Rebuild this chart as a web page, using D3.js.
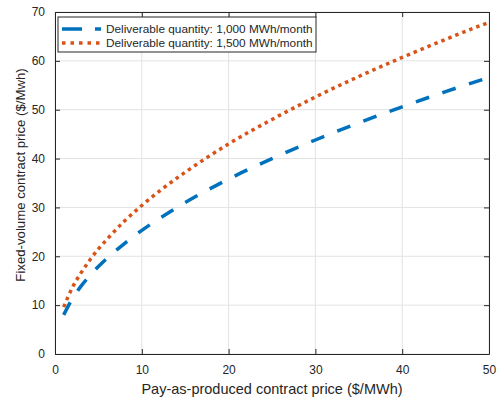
<!DOCTYPE html>
<html>
<head>
<meta charset="utf-8">
<script src="https://cdn.jsdelivr.net/npm/d3@7"></script>
<style>
  body { margin: 0; background: #fff; }
  text { font-family: "Liberation Sans", Arial, Helvetica, sans-serif; fill: #262626; }
</style>
</head>
<body>
<div id="chart-area"></div>
<script>
// data
var xTicks = [0, 10, 20, 30, 40, 50];
var yTicks = [0, 10, 20, 30, 40, 50, 60, 70];
var price = [1, 2, 3, 4, 5, 6, 8, 10, 12, 15, 20, 25, 30, 35, 40, 45, 50];
var q1000 = [8.0, 11.3, 13.9, 16.0, 17.9, 19.6, 22.6, 25.3, 27.7, 31.0, 35.8, 40.0, 43.8, 47.3, 50.6, 53.7, 56.6];
var q1500 = [9.6, 13.6, 16.6, 19.2, 21.5, 23.5, 27.2, 30.4, 33.3, 37.2, 43.0, 48.0, 52.6, 56.8, 60.7, 64.4, 67.9];
var seriesNames = ["Deliverable quantity: 1,000 MWh/month", "Deliverable quantity: 1,500 MWh/month"];

var margin = { left: 55, right: 9, top: 12, bottom: 48 };
var width = 498 - margin.left - margin.right,
    height = 402 - margin.top - margin.bottom;

var svg = d3.select("#chart-area")
    .append("svg")
        .attr("width", 498)
        .attr("height", 402)
    .append("g")
        .attr("transform", "translate(" + margin.left + "," + margin.top + ")");

var xScale = d3.scaleLinear().domain([0, 50]).range([0, width]);
var yScale = d3.scaleLinear().domain([0, 70]).range([height, 0]);

// grid
svg.selectAll(".gx").data(xTicks).enter().append("line")
    .attr("x1", function(d) { return xScale(d); })
    .attr("x2", function(d) { return xScale(d); })
    .attr("y1", 0).attr("y2", height)
    .attr("stroke", "#e3e3e3").attr("stroke-width", 1);
svg.selectAll(".gy").data(yTicks).enter().append("line")
    .attr("y1", function(d) { return yScale(d); })
    .attr("y2", function(d) { return yScale(d); })
    .attr("x1", 0).attr("x2", width)
    .attr("stroke", "#e3e3e3").attr("stroke-width", 1);

// axes (ticks inward, box on all sides)
function styleAxis(g) {
    g.selectAll("path").attr("stroke", "#262626");
    g.selectAll("line").attr("stroke", "#262626");
    g.selectAll("text").attr("font-size", "12px").attr("fill", "#262626")
        .style("font-family", "'Liberation Sans', Arial, sans-serif");
}
svg.append("g")
    .attr("transform", "translate(0," + height + ")")
    .call(d3.axisBottom(xScale).tickValues(xTicks).tickSizeInner(-5).tickSizeOuter(0).tickPadding(11))
    .call(styleAxis);
svg.append("g")
    .call(d3.axisLeft(yScale).tickValues(yTicks).tickSizeInner(-5).tickSizeOuter(0).tickPadding(10))
    .call(styleAxis);
svg.append("g")
    .call(d3.axisTop(xScale).tickValues(xTicks).tickSizeInner(-5).tickSizeOuter(0).tickFormat(""))
    .call(styleAxis);
svg.append("g")
    .attr("transform", "translate(" + width + ",0)")
    .call(d3.axisRight(yScale).tickValues(yTicks).tickSizeInner(-5).tickSizeOuter(0).tickFormat(""))
    .call(styleAxis);

// curves
var rows = price.map(function(p, i) { return { p: p, a: q1000[i], b: q1500[i] }; });
var lineA = d3.line().curve(d3.curveMonotoneX)
    .x(function(d) { return xScale(d.p); })
    .y(function(d) { return yScale(d.a); });
var lineB = d3.line().curve(d3.curveMonotoneX)
    .x(function(d) { return xScale(d.p); })
    .y(function(d) { return yScale(d.b); });

svg.append("path").datum(rows)
    .attr("d", lineA)
    .attr("fill", "none")
    .attr("stroke", "#0072BD")
    .attr("stroke-width", 3.5)
    .attr("stroke-dasharray", "14,14");
svg.append("path").datum(rows)
    .attr("d", lineB)
    .attr("fill", "none")
    .attr("stroke", "#D95319")
    .attr("stroke-width", 3.5)
    .attr("stroke-dasharray", "3.5,4");

// legend
var legend = svg.append("g").attr("transform", "translate(3,5)");
legend.append("rect")
    .attr("width", 258).attr("height", 35)
    .attr("fill", "#fff").attr("stroke", "#262626").attr("stroke-width", 1);
var styles = [
    { color: "#0072BD", dash: "20,13" },
    { color: "#D95319", dash: "3.5,5" }
];
seriesNames.forEach(function(name, i) {
    var y = 12 + i * 14;
    legend.append("line")
        .attr("x1", 4).attr("x2", 43)
        .attr("y1", y).attr("y2", y)
        .attr("stroke", styles[i].color)
        .attr("stroke-width", 3.5)
        .attr("stroke-dasharray", styles[i].dash);
    legend.append("text")
        .attr("x", 48).attr("y", y)
        .attr("dy", "0.35em")
        .attr("font-size", "11.8px")
        .text(name);
});

// labels
svg.append("text")
    .attr("x", width / 2)
    .attr("y", height + 40)
    .attr("text-anchor", "middle")
    .attr("font-size", "14.5px")
    .text("Pay-as-produced contract price ($/MWh)");
svg.append("text")
    .attr("transform", "rotate(-90)")
    .attr("x", -163)
    .attr("y", -30)
    .attr("text-anchor", "middle")
    .attr("font-size", "13.2px")
    .text("Fixed-volume contract price ($/Mwh)");
</script>
</body>
</html>
